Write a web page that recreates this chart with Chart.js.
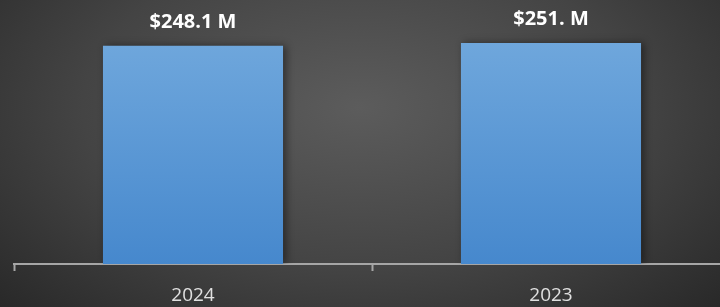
<!DOCTYPE html>
<html>
<head>
<meta charset="utf-8">
<script src="https://cdn.jsdelivr.net/npm/chart.js@4.4.0/dist/chart.umd.min.js"></script>
<style>
html, body {
    margin: 0;
    padding: 0;
    overflow: hidden;
    width: 720px;
    height: 307px;
}
body {
    background: radial-gradient(ellipse 70% 95% at 50% 35%, #5c5c5c 0%, #444444 55%, #282828 100%);
}
#chartContainer {
    width: 744px;
    height: 307px;
}
</style>
</head>
<body>
<div id="chartContainer"><canvas id="revenueChart"></canvas></div>
<script>
// chart values
const years = ["2024", "2023"];
const revenue = [248.1, 251.0];
const revenueLabels = ["$248.1 M", "$251. M"];

// draw value labels above each bar
const barLabels = {
    id: "barLabels",
    afterDatasetsDraw(chart) {
        const ctx = chart.ctx;
        const meta = chart.getDatasetMeta(0);
        ctx.save();
        ctx.fillStyle = "#ffffff";
        ctx.font = "bold 20px 'Open Sans'";
        ctx.textAlign = "center";
        ctx.textBaseline = "alphabetic";
        meta.data.forEach((bar, i) => {
            ctx.fillText(revenueLabels[i], bar.x, bar.y - 18);
        });
        ctx.restore();
    }
};

// soft shadow behind bars
const barShadow = {
    id: "barShadow",
    beforeDatasetsDraw(chart) {
        const ctx = chart.ctx;
        ctx.save();
        ctx.shadowColor = "rgba(0,0,0,0.45)";
        ctx.shadowBlur = 8;
        ctx.shadowOffsetX = 3;
        ctx.shadowOffsetY = 0;
    },
    afterDatasetsDraw(chart) {
        chart.ctx.restore();
    }
};

function barGradient(context) {
    const chart = context.chart;
    const area = chart.chartArea;
    if (!area) {
        return "#5b9bd5";
    }
    const g = chart.ctx.createLinearGradient(0, area.top + 40, 0, area.bottom);
    g.addColorStop(0, "#6fa7dc");
    g.addColorStop(1, "#4688cd");
    return g;
}

const canvas = document.getElementById("revenueChart");
new Chart(canvas, {
    type: "bar",
    data: {
        labels: years,
        datasets: [{
            data: revenue,
            backgroundColor: barGradient,
            borderWidth: 0,
            barPercentage: 1,
            categoryPercentage: 0.503
        }]
    },
    options: {
        responsive: true,
        maintainAspectRatio: false,
        animation: false,
        layout: {
            padding: { left: 14, right: 14, top: 0, bottom: 0 }
        },
        plugins: {
            legend: { display: false },
            tooltip: { enabled: false }
        },
        scales: {
            x: {
                afterFit(scale) {
                    scale.height = 43;
                },
                grid: {
                    drawOnChartArea: false,
                    drawTicks: true,
                    tickLength: 7,
                    tickWidth: 2,
                    color: "#a6a6a6"
                },
                border: {
                    color: "#a6a6a6",
                    width: 2
                },
                ticks: {
                    color: "#e0e0e0",
                    font: { family: "'Open Sans'", size: 19 },
                    padding: 13
                }
            },
            y: {
                display: false,
                min: 0,
                max: 300
            }
        }
    },
    plugins: [barShadow, barLabels]
});
</script>
</body>
</html>
